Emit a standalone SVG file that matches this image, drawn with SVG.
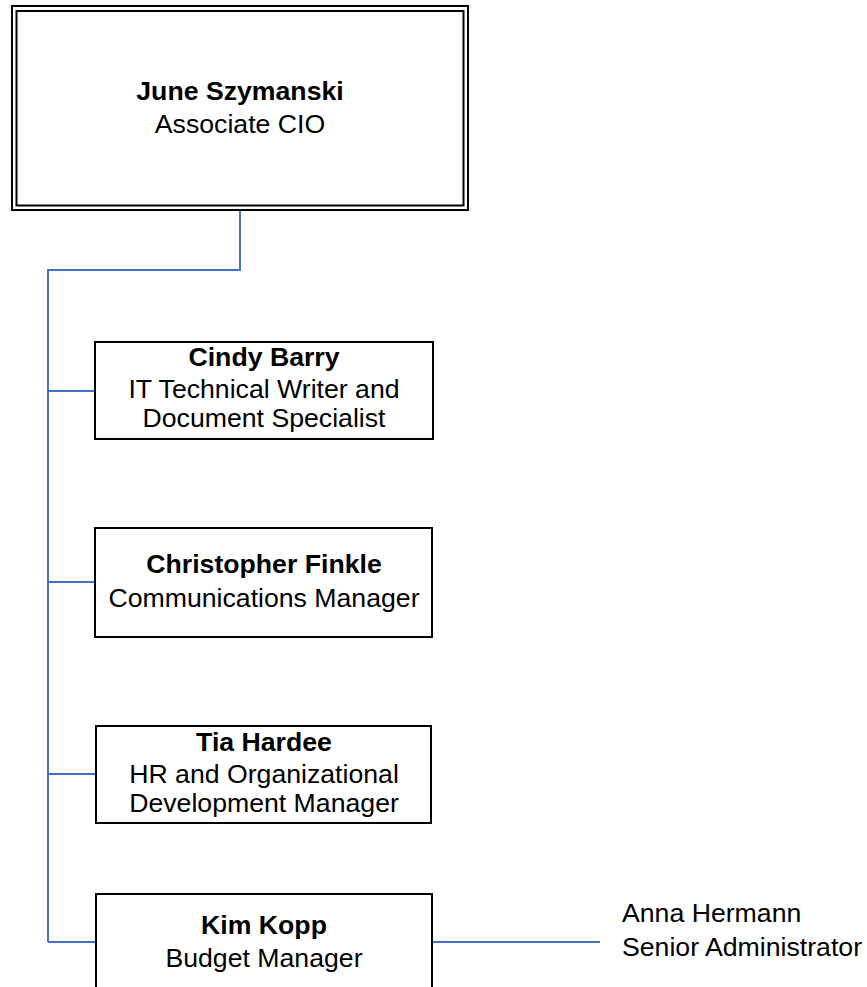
<svg xmlns="http://www.w3.org/2000/svg" width="867" height="987" viewBox="0 0 867 987">
<style>
.box{fill:#fff;stroke:#000;stroke-width:2}
.conn{fill:none;stroke:#4472C4;stroke-width:2}
text{font-family:"Liberation Sans",Arial,sans-serif;font-size:26.67px;fill:#000}
.c{text-anchor:middle}
.b{font-weight:bold}
</style>
<rect width="867" height="987" fill="#fff"/>
<g id="connectors">
<path class="conn" d="M240,210 V270 H48 V942"/>
<path class="conn" d="M48,391 H95"/>
<path class="conn" d="M48,582 H95"/>
<path class="conn" d="M48,774 H96"/>
<path class="conn" d="M48,942 H96"/>
<path class="conn" d="M432,942 H600"/>
</g>
<g id="june">
<rect class="box" x="12" y="6" width="456" height="204"/>
<rect class="box" x="16.5" y="11" width="447" height="194.5"/>
<text class="c b" x="240" y="100">June Szymanski</text>
<text class="c" x="240" y="133">Associate CIO</text>
</g>
<g id="cindy">
<rect class="box" x="95" y="342" width="338" height="97"/>
<text class="c b" x="264" y="366">Cindy Barry</text>
<text class="c" x="264" y="398">IT Technical Writer and</text>
<text class="c" x="264" y="427">Document Specialist</text>
</g>
<g id="christopher">
<rect class="box" x="95" y="528" width="337" height="109"/>
<text class="c b" x="264" y="573">Christopher Finkle</text>
<text class="c" x="264" y="607">Communications Manager</text>
</g>
<g id="tia">
<rect class="box" x="96" y="726" width="335" height="97"/>
<text class="c b" x="264" y="751">Tia Hardee</text>
<text class="c" x="264" y="783">HR and Organizational</text>
<text class="c" x="264" y="812">Development Manager</text>
</g>
<g id="kim">
<rect class="box" x="96" y="894" width="336" height="110"/>
<text class="c b" x="264" y="934">Kim Kopp</text>
<text class="c" x="264" y="967">Budget Manager</text>
</g>
<g id="anna">
<text x="622" y="922">Anna Hermann</text>
<text x="622" y="956">Senior Administrator</text>
</g>
</svg>
